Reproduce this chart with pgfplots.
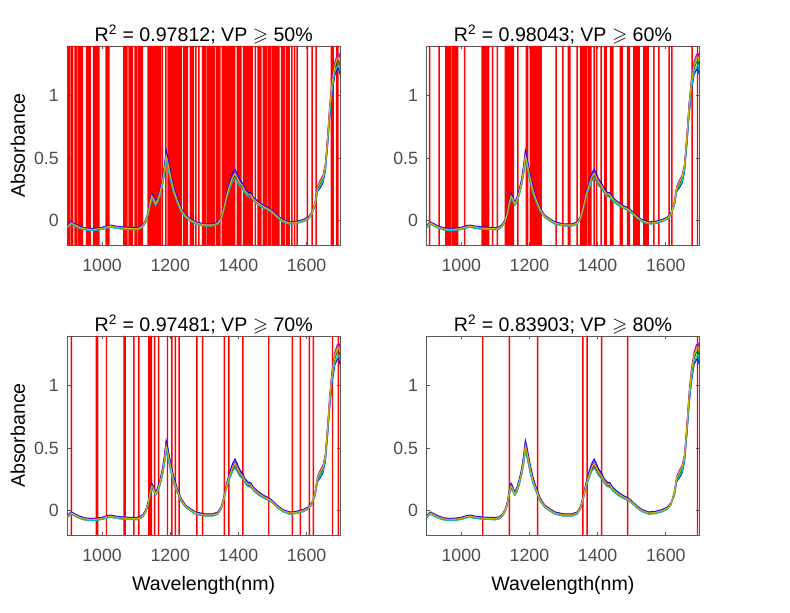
\documentclass[border=0pt]{standalone}
\usepackage{pgfplots}
\pgfplotsset{compat=1.18}
\usepackage{pgfplotstable}
\usepackage{amssymb}
\usepackage{fontspec}
\setmainfont{Liberation Sans}

\definecolor{mgreen}{rgb}{0,0.5,0}
\definecolor{mcyan}{rgb}{0,0.75,0.75}
\definecolor{mmag}{rgb}{0.75,0,0.75}
\definecolor{molive}{rgb}{0.75,0.75,0}

\pgfplotstableread{
x b r g m o c
898 -0.045 -0.061 -0.057 -0.051 -0.054 -0.063
905 -0.025 -0.041 -0.037 -0.031 -0.034 -0.043
910 -0.015 -0.031 -0.027 -0.021 -0.024 -0.033
920 -0.030 -0.046 -0.042 -0.036 -0.039 -0.048
935 -0.050 -0.066 -0.062 -0.056 -0.059 -0.068
950 -0.062 -0.078 -0.074 -0.068 -0.071 -0.080
965 -0.067 -0.083 -0.079 -0.073 -0.076 -0.085
980 -0.065 -0.081 -0.077 -0.071 -0.074 -0.083
1000 -0.058 -0.074 -0.070 -0.064 -0.067 -0.076
1015 -0.045 -0.061 -0.057 -0.051 -0.054 -0.063
1025 -0.040 -0.056 -0.052 -0.046 -0.049 -0.058
1040 -0.048 -0.064 -0.060 -0.054 -0.057 -0.066
1060 -0.055 -0.071 -0.067 -0.061 -0.064 -0.073
1080 -0.058 -0.074 -0.070 -0.064 -0.067 -0.076
1100 -0.060 -0.076 -0.072 -0.066 -0.069 -0.078
1110 -0.055 -0.071 -0.067 -0.061 -0.064 -0.073
1120 -0.035 -0.051 -0.047 -0.041 -0.044 -0.053
1128 0.000 -0.016 -0.012 -0.006 -0.009 -0.018
1135 0.065 0.041 0.047 0.056 0.052 0.038
1141 0.160 0.128 0.136 0.148 0.142 0.124
1146 0.215 0.175 0.185 0.200 0.193 0.170
1151 0.190 0.158 0.166 0.178 0.172 0.154
1157 0.145 0.121 0.127 0.136 0.132 0.118
1163 0.180 0.148 0.156 0.168 0.162 0.144
1170 0.245 0.205 0.215 0.230 0.223 0.200
1177 0.330 0.282 0.294 0.312 0.303 0.276
1183 0.440 0.376 0.392 0.416 0.404 0.368
1188 0.560 0.480 0.500 0.530 0.515 0.470
1192 0.515 0.443 0.461 0.488 0.475 0.434
1197 0.440 0.376 0.392 0.416 0.404 0.368
1203 0.355 0.299 0.313 0.334 0.324 0.292
1210 0.270 0.222 0.234 0.252 0.243 0.216
1220 0.180 0.148 0.156 0.168 0.162 0.144
1232 0.095 0.071 0.077 0.086 0.082 0.068
1245 0.040 0.024 0.028 0.034 0.031 0.022
1260 0.010 -0.006 -0.002 0.004 0.001 -0.008
1275 -0.015 -0.031 -0.027 -0.021 -0.024 -0.033
1300 -0.030 -0.046 -0.042 -0.036 -0.039 -0.048
1325 -0.030 -0.046 -0.042 -0.036 -0.039 -0.048
1340 -0.015 -0.031 -0.027 -0.021 -0.024 -0.033
1350 0.030 0.014 0.018 0.024 0.021 0.012
1358 0.115 0.091 0.097 0.106 0.102 0.088
1366 0.220 0.188 0.196 0.208 0.202 0.184
1375 0.310 0.262 0.274 0.292 0.283 0.256
1383 0.375 0.319 0.333 0.354 0.344 0.312
1390 0.410 0.346 0.362 0.386 0.374 0.338
1396 0.375 0.319 0.333 0.354 0.344 0.312
1403 0.330 0.282 0.294 0.312 0.303 0.276
1412 0.295 0.255 0.265 0.280 0.273 0.250
1420 0.250 0.218 0.226 0.238 0.232 0.214
1428 0.225 0.193 0.201 0.213 0.207 0.189
1436 0.220 0.188 0.196 0.208 0.202 0.184
1445 0.180 0.156 0.162 0.171 0.167 0.153
1460 0.145 0.121 0.127 0.136 0.132 0.118
1475 0.117 0.098 0.103 0.110 0.106 0.095
1490 0.097 0.078 0.083 0.090 0.086 0.075
1500 0.075 0.059 0.063 0.069 0.066 0.057
1515 0.035 0.019 0.023 0.029 0.026 0.017
1530 0.005 -0.011 -0.007 -0.001 -0.004 -0.013
1550 -0.015 -0.031 -0.027 -0.021 -0.024 -0.033
1570 -0.010 -0.026 -0.022 -0.016 -0.019 -0.028
1590 0.005 -0.011 -0.007 -0.001 -0.004 -0.013
1605 0.025 0.009 0.013 0.019 0.016 0.007
1615 0.060 0.044 0.048 0.054 0.051 0.042
1625 0.115 0.139 0.130 0.145 0.138 0.121
1632 0.230 0.262 0.250 0.270 0.260 0.238
1640 0.260 0.308 0.290 0.320 0.305 0.272
1648 0.300 0.348 0.330 0.360 0.345 0.312
1655 0.390 0.438 0.420 0.450 0.435 0.402
1662 0.610 0.674 0.650 0.690 0.670 0.626
1668 0.830 0.910 0.880 0.930 0.905 0.850
1675 1.030 1.110 1.080 1.130 1.105 1.050
1683 1.170 1.250 1.220 1.270 1.245 1.190
1690 1.210 1.306 1.270 1.330 1.300 1.234
1695 1.220 1.316 1.280 1.340 1.310 1.244
1698 1.170 1.282 1.240 1.310 1.275 1.198
}\spec

% selected wavelengths (x) for each threshold; lines span the full y range
\pgfplotstableread[row sep=\\]{
x top bot\\901 1.4 -0.2\\904 1.4 -0.2\\910 1.4 -0.2\\914 1.4 -0.2\\921 1.4 -0.2\\924 1.4 -0.2\\930 1.4 -0.2\\933 1.4 -0.2\\936 1.4 -0.2\\939 1.4 -0.2\\942 1.4 -0.2\\955 1.4 -0.2\\958 1.4 -0.2\\962 1.4 -0.2\\965 1.4 -0.2\\975 1.4 -0.2\\978 1.4 -0.2\\981 1.4 -0.2\\985 1.4 -0.2\\988 1.4 -0.2\\991 1.4 -0.2\\1012 1.4 -0.2\\1016 1.4 -0.2\\1020 1.4 -0.2\\1064 1.4 -0.2\\1068 1.4 -0.2\\1073 1.4 -0.2\\1079 1.4 -0.2\\1084 1.4 -0.2\\1089 1.4 -0.2\\1097 1.4 -0.2\\1102 1.4 -0.2\\1108 1.4 -0.2\\1113 1.4 -0.2\\1118 1.4 -0.2\\1135 1.4 -0.2\\1139 1.4 -0.2\\1143 1.4 -0.2\\1147 1.4 -0.2\\1151 1.4 -0.2\\1155 1.4 -0.2\\1159 1.4 -0.2\\1163 1.4 -0.2\\1167 1.4 -0.2\\1171 1.4 -0.2\\1177 1.4 -0.2\\1187 1.4 -0.2\\1194 1.4 -0.2\\1198 1.4 -0.2\\1203 1.4 -0.2\\1206 1.4 -0.2\\1209 1.4 -0.2\\1212 1.4 -0.2\\1215 1.4 -0.2\\1218 1.4 -0.2\\1221 1.4 -0.2\\1224 1.4 -0.2\\1227 1.4 -0.2\\1230 1.4 -0.2\\1233 1.4 -0.2\\1240 1.4 -0.2\\1245 1.4 -0.2\\1250 1.4 -0.2\\1259 1.4 -0.2\\1263 1.4 -0.2\\1268 1.4 -0.2\\1275 1.4 -0.2\\1284 1.4 -0.2\\1295 1.4 -0.2\\1299 1.4 -0.2\\1303 1.4 -0.2\\1309 1.4 -0.2\\1313 1.4 -0.2\\1318 1.4 -0.2\\1322 1.4 -0.2\\1326 1.4 -0.2\\1330 1.4 -0.2\\1337 1.4 -0.2\\1342 1.4 -0.2\\1346 1.4 -0.2\\1353 1.4 -0.2\\1357 1.4 -0.2\\1361 1.4 -0.2\\1365 1.4 -0.2\\1369 1.4 -0.2\\1373 1.4 -0.2\\1377 1.4 -0.2\\1381 1.4 -0.2\\1385 1.4 -0.2\\1389 1.4 -0.2\\1397 1.4 -0.2\\1402 1.4 -0.2\\1407 1.4 -0.2\\1415 1.4 -0.2\\1419 1.4 -0.2\\1423 1.4 -0.2\\1427 1.4 -0.2\\1431 1.4 -0.2\\1435 1.4 -0.2\\1440 1.4 -0.2\\1450 1.4 -0.2\\1458 1.4 -0.2\\1462 1.4 -0.2\\1466 1.4 -0.2\\1473 1.4 -0.2\\1478 1.4 -0.2\\1482 1.4 -0.2\\1488 1.4 -0.2\\1493 1.4 -0.2\\1499 1.4 -0.2\\1503 1.4 -0.2\\1507 1.4 -0.2\\1511 1.4 -0.2\\1515 1.4 -0.2\\1519 1.4 -0.2\\1527 1.4 -0.2\\1531 1.4 -0.2\\1535 1.4 -0.2\\1541 1.4 -0.2\\1545 1.4 -0.2\\1549 1.4 -0.2\\1557 1.4 -0.2\\1565 1.4 -0.2\\1572 1.4 -0.2\\1602 1.4 -0.2\\1616 1.4 -0.2\\1628 1.4 -0.2\\1673 1.4 -0.2\\1678 1.4 -0.2\\1688 1.4 -0.2\\1692 1.4 -0.2\\
}\selA
\pgfplotstableread[row sep=\\]{
x top bot\\907 1.4 -0.2\\935 1.4 -0.2\\955 1.4 -0.2\\959 1.4 -0.2\\963 1.4 -0.2\\967 1.4 -0.2\\973 1.4 -0.2\\977 1.4 -0.2\\981 1.4 -0.2\\985 1.4 -0.2\\989 1.4 -0.2\\1010 1.4 -0.2\\1061 1.4 -0.2\\1065 1.4 -0.2\\1069 1.4 -0.2\\1073 1.4 -0.2\\1077 1.4 -0.2\\1080 1.4 -0.2\\1092 1.4 -0.2\\1106 1.4 -0.2\\1129 1.4 -0.2\\1133 1.4 -0.2\\1137 1.4 -0.2\\1141 1.4 -0.2\\1145 1.4 -0.2\\1149 1.4 -0.2\\1153 1.4 -0.2\\1166 1.4 -0.2\\1191 1.4 -0.2\\1195 1.4 -0.2\\1203 1.4 -0.2\\1207 1.4 -0.2\\1211 1.4 -0.2\\1215 1.4 -0.2\\1218 1.4 -0.2\\1222 1.4 -0.2\\1226 1.4 -0.2\\1230 1.4 -0.2\\1234 1.4 -0.2\\1278 1.4 -0.2\\1298 1.4 -0.2\\1314 1.4 -0.2\\1319 1.4 -0.2\\1340 1.4 -0.2\\1350 1.4 -0.2\\1354 1.4 -0.2\\1358 1.4 -0.2\\1362 1.4 -0.2\\1366 1.4 -0.2\\1372 1.4 -0.2\\1376 1.4 -0.2\\1380 1.4 -0.2\\1390 1.4 -0.2\\1397 1.4 -0.2\\1410 1.4 -0.2\\1421 1.4 -0.2\\1425 1.4 -0.2\\1438 1.4 -0.2\\1442 1.4 -0.2\\1445 1.4 -0.2\\1467 1.4 -0.2\\1472 1.4 -0.2\\1488 1.4 -0.2\\1493 1.4 -0.2\\1506 1.4 -0.2\\1510 1.4 -0.2\\1514 1.4 -0.2\\1518 1.4 -0.2\\1522 1.4 -0.2\\1536 1.4 -0.2\\1540 1.4 -0.2\\1544 1.4 -0.2\\1548 1.4 -0.2\\1565 1.4 -0.2\\1580 1.4 -0.2\\1610 1.4 -0.2\\1618 1.4 -0.2\\1677 1.4 -0.2\\1693 1.4 -0.2\\
}\selB
\pgfplotstableread[row sep=\\]{
x top bot\\910 1.4 -0.2\\983 1.4 -0.2\\985 1.4 -0.2\\987 1.4 -0.2\\1013 1.4 -0.2\\1065 1.4 -0.2\\1068 1.4 -0.2\\1093 1.4 -0.2\\1108 1.4 -0.2\\1137 1.4 -0.2\\1140 1.4 -0.2\\1142 1.4 -0.2\\1145 1.4 -0.2\\1154 1.4 -0.2\\1166 1.4 -0.2\\1192 1.4 -0.2\\1205 1.4 -0.2\\1215 1.4 -0.2\\1226 1.4 -0.2\\1278 1.4 -0.2\\1295 1.4 -0.2\\1359 1.4 -0.2\\1372 1.4 -0.2\\1413 1.4 -0.2\\1489 1.4 -0.2\\1558 1.4 -0.2\\1582 1.4 -0.2\\1608 1.4 -0.2\\1620 1.4 -0.2\\1676 1.4 -0.2\\1693 1.4 -0.2\\
}\selC
\pgfplotstableread[row sep=\\]{
x top bot\\1063 1.4 -0.2\\1141 1.4 -0.2\\1224 1.4 -0.2\\1357 1.4 -0.2\\1369 1.4 -0.2\\1412 1.4 -0.2\\1488 1.4 -0.2\\1693 1.4 -0.2\\
}\selD

\newcommand{\spectra}{%
  \addplot[no marks, blue, line width=0.8pt] table[x=x,y=b]{\spec};
  \addplot[no marks, mgreen, line width=0.8pt] table[x=x,y=g]{\spec};
  \addplot[no marks, red, line width=0.8pt] table[x=x,y=r]{\spec};
  \addplot[no marks, mcyan, line width=0.8pt] table[x=x,y=c]{\spec};
  \addplot[no marks, mmag, line width=0.8pt] table[x=x,y=m]{\spec};
  \addplot[no marks, molive, line width=0.8pt] table[x=x,y=o]{\spec};
}
% vertical selection lines: thin filled bars from 0 to the top and to the bottom of the axis
\newcommand{\sel}[1]{%
  \addplot[ybar, bar width=1.1pt, bar shift=0pt, fill=red, draw=none, forget plot] table[x=x, y=top]{#1};
  \addplot[ybar, bar width=1.1pt, bar shift=0pt, fill=red, draw=none, forget plot] table[x=x, y=bot]{#1};
}

\pgfplotsset{
  every axis title shift=0pt,
  panel/.style={
    scale only axis, width=204.4pt, height=149.25pt,
    anchor=south west,
    xmin=898.5, xmax=1698, ymin=-0.2, ymax=1.4,
    xtick={1000,1200,1400,1600}, ytick={0,0.5,1},
    tick align=inside, major tick length=2.5pt,
    axis line style={black!65}, tick style={black!65, line width=0.5pt},
    ticklabel style={font=\fontsize{13.3}{15}\selectfont, text=black!70},
    xticklabel style={yshift=-7pt},
    yticklabel style={xshift=-3pt},
    /pgf/number format/assume math mode=true,
    /pgf/number format/1000 sep={},
    title style={font=\fontsize{14.7}{17}\selectfont, at={(axis description cs:0.5,1.058)}, anchor=center},
    label style={font=\fontsize{14.7}{17}\selectfont},
    xlabel style={at={(axis description cs:0.5,-0.255)}, anchor=center},
    ylabel style={at={(axis description cs:-0.182,0.5)}, anchor=center, rotate=0},
  },
}

\begin{document}
\begin{tikzpicture}
\useasboundingbox (0,0) rectangle (592.5pt,459.75pt);

\begin{axis}[panel, at={(50.6pt,276pt)}, ylabel={Absorbance},
  title={R\textsuperscript{2} = 0.97812; VP $\geqslant$ 50\%}]
\sel{\selA}
\spectra
\end{axis}

\begin{axis}[panel, at={(320pt,276pt)},
  title={R\textsuperscript{2} = 0.98043; VP $\geqslant$ 60\%}]
\sel{\selB}
\spectra
\end{axis}

\begin{axis}[panel, at={(50.6pt,58.5pt)}, ylabel={Absorbance}, xlabel={Wavelength(nm)},
  title={R\textsuperscript{2} = 0.97481; VP $\geqslant$ 70\%}]
\sel{\selC}
\spectra
\end{axis}

\begin{axis}[panel, at={(320pt,58.5pt)}, xlabel={Wavelength(nm)},
  title={R\textsuperscript{2} = 0.83903; VP $\geqslant$ 80\%}]
\sel{\selD}
\spectra
\end{axis}
\end{tikzpicture}
\end{document}
